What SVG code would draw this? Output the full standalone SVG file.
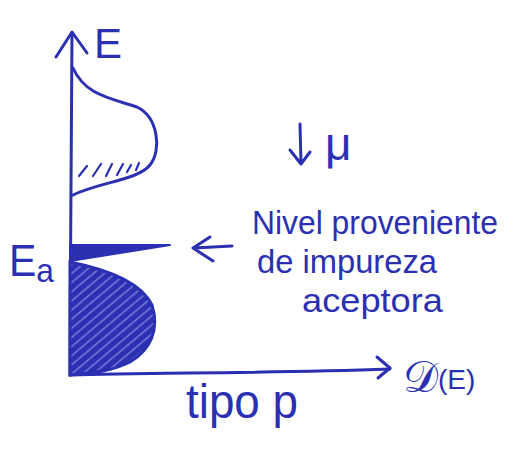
<svg xmlns="http://www.w3.org/2000/svg" width="514" height="462" viewBox="0 0 514 462">
<defs>
<style>
.ink{fill:none;stroke:#2b2fb2;stroke-width:3;stroke-linecap:round;stroke-linejoin:round}
.thin{fill:none;stroke:#2b2fb2;stroke-width:2.2;stroke-linecap:round}
.t{fill:#2b2fb2;font-family:"Liberation Sans",Arial,sans-serif}
</style>
<pattern id="hatch" width="7" height="7" patternUnits="userSpaceOnUse" patternTransform="rotate(-40)">
<rect width="7" height="7" fill="#2b2fb2"/>
<line x1="0" y1="3.5" x2="7" y2="3.5" stroke="#7e84dc" stroke-width="1.4"/>
</pattern>
</defs>
<rect width="514" height="462" fill="#ffffff"/>
<g id="axes">
<path class="ink" d="M72,33 C71,120 70,250 70,375"/>
<path class="ink" d="M56,57 L72,32 L87,53"/>
<path class="ink" d="M70,375 C150,372 250,374 390,369"/>
<path class="ink" d="M377,357 L390,368 L378,378"/>
</g>
<g id="upper-band">
<path class="ink" d="M73,68 C85,95 110,98 137,107 C158,117 162,150 150,165 C138,180 100,182 73,195"/>
<path class="thin" d="M79,176 L87,166 M93,176 L101,164 M106,176 L112,164 M117,175 L123,164 M127,172 L131,165 M136,170 L139,163"/>
</g>
<g id="lower-band">
<path d="M70,262 C100,268 140,280 152,305 C160,330 150,350 130,362 C110,372 90,373 70,375 Z" fill="url(#hatch)" stroke="#2b2fb2" stroke-width="3"/>
<path d="M70,245 L170,245 L70,261 Z" fill="#2b2fb2" stroke="#2b2fb2" stroke-width="2" stroke-linejoin="round"/>
</g>
<g id="arrows">
<path class="ink" d="M232,246 L194,248 M210,237 L193,248 L213,261"/>
<path class="ink" d="M300,124 L301,164 M290,150 L301,164 L310,152"/>
</g>
<g id="labels">
<text class="t" x="94" y="58" font-size="42">E</text>
<text class="t" x="9" y="276" font-size="44" textLength="45" lengthAdjust="spacingAndGlyphs">E<tspan font-size="34" dy="6">a</tspan></text>
<text class="t" x="325" y="160" font-size="46">μ</text>
<text class="t" x="252" y="234" font-size="34" textLength="246" lengthAdjust="spacingAndGlyphs">Nivel proveniente</text>
<text class="t" x="257" y="273" font-size="34" textLength="180" lengthAdjust="spacingAndGlyphs">de impureza</text>
<text class="t" x="302" y="312" font-size="34" textLength="141" lengthAdjust="spacingAndGlyphs">aceptora</text>
<text class="t" x="186" y="418" font-size="48" textLength="112" lengthAdjust="spacingAndGlyphs">tipo p</text>
<text class="t" x="403" y="392" font-size="44">𝒟<tspan font-size="28" dy="-3">(E)</tspan></text>
</g>
</svg>
